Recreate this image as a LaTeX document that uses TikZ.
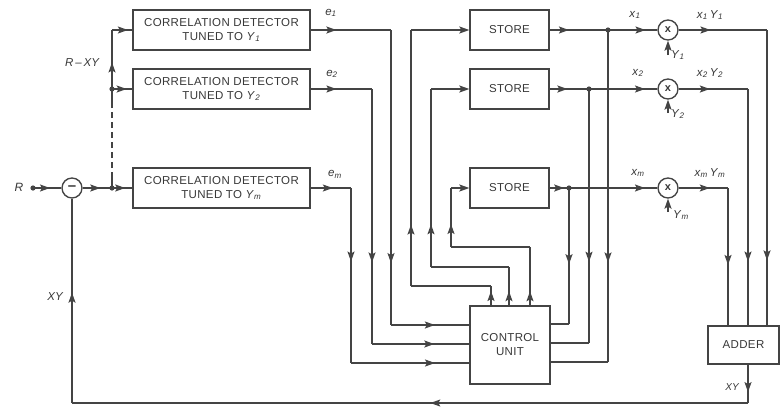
\documentclass[tikz,border=0pt]{standalone}
\usepackage{fontspec}
\setmainfont{Liberation Sans}
\newfontfamily\boxfont[LetterSpace=3]{Liberation Sans}
\usetikzlibrary{arrows.meta,decorations.markings}
\definecolor{lc}{HTML}{444444}
\definecolor{tc}{HTML}{383838}
\newcommand\lb[2]{\textit{#1}\textsubscript{\textit{#2}}}
\tikzset{
  ln/.style={line width=1.35pt, draw=lc},
  ar/.style={postaction={decorate}, decoration={markings, mark=at position #1 with {\arrow{Stealth[length=10pt,width=7pt,inset=2pt]}}}},
  endar/.style={-{Stealth[length=10pt,width=7pt,inset=2pt]}},
  blk/.style={draw=lc, line width=1.35pt, rectangle, inner sep=0pt, align=center, text=tc, font=\boxfont\fontsize{11.5}{14}\selectfont},
  detbox/.style={blk, minimum width=177pt, minimum height=40pt},
  storebox/.style={blk, minimum width=79pt, minimum height=40pt},
  circ/.style={draw=lc, line width=1.35pt, circle, minimum size=20pt, inner sep=0pt, text=tc, font=\bfseries\fontsize{11}{12}\selectfont},
  lab/.style={text=tc, inner sep=0pt, font=\fontsize{11.5}{13}\selectfont},
  dot/.style={fill=lc}
}
\begin{document}
\begin{tikzpicture}[x=1pt,y=-1pt]
\useasboundingbox (0,0) rectangle (781,408);
\fill[white] (0,0) rectangle (781,408);

% left input
\node[lab,font=\fontsize{12}{13}\selectfont] (rlab) at (19,187) {\textit{R}};
\coordinate (in) at (33,188);
\node[circ,font=\bfseries\fontsize{15}{15}\selectfont] (sub) at (72,188) {\raisebox{0.5pt}{–}};
\coordinate (j0) at (112,188);
\coordinate (ja) at (112,178);
\coordinate (jb) at (112,104);
\coordinate (j2) at (112,89);
\coordinate (jt) at (112,30);

% detectors
\node[detbox] (det1) at (221.5,30) {CORRELATION DETECTOR\\TUNED TO \lb{Y}{1}};
\node[detbox] (det2) at (221.5,89) {CORRELATION DETECTOR\\TUNED TO \lb{Y}{2}};
\node[detbox] (detm) at (221.5,188) {CORRELATION DETECTOR\\TUNED TO \lb{Y}{m}};

\draw[ln,ar=0.6] (in) -- (sub.west);
\draw[ln,ar=0.6] (sub.east) -- (j0);
\draw[ln,ar=0.65] (j0) -- (detm.west);
\draw[ln] (j0) -- (ja);
\draw[ln,dashed,dash pattern=on 6pt off 4pt] (ja) -- (jb);
\draw[ln] (jb) -- (j2);
\draw[ln,ar=0.45] (j2) -- (jt);
\draw[ln,ar=0.78] (jt) -- (det1.west);
\draw[ln,ar=0.72] (j2) -- (det2.west);
\fill[dot] (in) circle (2.6pt);
\fill[dot] (j0) circle (2.6pt);
\fill[dot] (j2) circle (2.6pt);
\node[lab,font=\itshape\fontsize{11.5}{13}\selectfont] (rxy) at (82,63) {R\,--\,XY};

% control unit
\node[blk, minimum width=80pt, minimum height=78pt] (cu) at (510,345) {CONTROL\\UNIT};

% e lines
\coordinate (e1a) at (391,30);  \coordinate (e1b) at (391,325);
\coordinate (e2a) at (372,89);  \coordinate (e2b) at (372,344);
\coordinate (ema) at (351,188); \coordinate (emb) at (351,363);
\draw[ln,ar=0.32] (det1.east) -- (e1a);
\draw[ln,ar=0.79] (e1a) -- (e1b);
\draw[ln,ar=0.56] (e1b) -- (cu.west |- e1b);
\draw[ln,ar=0.42] (det2.east) -- (e2a);
\draw[ln,ar=0.68] (e2a) -- (e2b);
\draw[ln,ar=0.64] (e2b) -- (cu.west |- e2b);
\draw[ln,ar=0.55] (detm.east) -- (ema);
\draw[ln,ar=0.42] (ema) -- (emb);
\draw[ln,ar=0.71] (emb) -- (cu.west |- emb);
\node[lab] (e1l) at (331,13) {\lb{e}{1}};
\node[lab] (e2l) at (332,74) {\lb{e}{2}};
\node[lab] (eml) at (335,174) {\lb{e}{m}};

% stores
\node[storebox] (st1) at (509.5,30) {STORE};
\node[storebox] (st2) at (509.5,89) {STORE};
\node[storebox] (stm) at (509.5,188) {STORE};

\coordinate (c1) at (491,306); \coordinate (c1a) at (491,286); \coordinate (c1b) at (411,286); \coordinate (c1c) at (411,30);
\coordinate (c2) at (509,306); \coordinate (c2a) at (509,267); \coordinate (c2b) at (431,267); \coordinate (c2c) at (431,89);
\coordinate (c3) at (530,306); \coordinate (c3a) at (530,247); \coordinate (c3b) at (451,247); \coordinate (c3c) at (451,188);
\draw[ln,ar=0.75] (c1) -- (c1a);
\draw[ln] (c1a) -- (c1b);
\draw[ln,ar=0.24] (c1b) -- (c1c);
\draw[ln,endar] (c1c) -- (st1.west);
\draw[ln,ar=0.38] (c2) -- (c2a);
\draw[ln] (c2a) -- (c2b);
\draw[ln,ar=0.24] (c2b) -- (c2c);
\draw[ln,endar] (c2c) -- (st2.west);
\draw[ln,ar=0.25] (c3) -- (c3a);
\draw[ln] (c3a) -- (c3b);
\draw[ln,ar=0.39] (c3b) -- (c3c);
\draw[ln,endar] (c3c) -- (stm.west);

% multipliers
\node[circ] (mul1) at (668,30) {x};
\node[circ] (mul2) at (668,89) {x};
\node[circ] (mulm) at (668,188) {x};

\coordinate (d1) at (608,30);
\coordinate (d2) at (589,89);
\coordinate (dm) at (569,188);
\coordinate (d1b) at (608,362);
\coordinate (d2b) at (589,343);
\coordinate (dmb) at (569,324);
\draw[ln,ar=0.33] (st1.east) -- (d1);
\draw[ln,ar=0.76] (d1) -- (mul1.west);
\draw[ln,ar=0.45] (st2.east) -- (d2);
\draw[ln,ar=0.82] (d2) -- (mul2.west);
\draw[ln,ar=0.75] (stm.east) -- (dm);
\draw[ln,ar=0.86] (dm) -- (mulm.west);
\draw[ln,ar=0.7] (d1) -- (d1b);
\draw[ln] (d1b) -- (cu.east |- d1b);
\draw[ln,ar=0.68] (d2) -- (d2b);
\draw[ln] (d2b) -- (cu.east |- d2b);
\draw[ln,ar=0.56] (dm) -- (dmb);
\draw[ln] (dmb) -- (cu.east |- dmb);
\fill[dot] (d1) circle (2.6pt);
\fill[dot] (d2) circle (2.6pt);
\fill[dot] (dm) circle (2.6pt);

\node[lab] (x1l) at (635,15) {\lb{x}{1}};
\node[lab] (x2l) at (638,73) {\lb{x}{2}};
\node[lab] (xml) at (638,173) {\lb{x}{m}};

% Y inputs
\coordinate (y1s) at (668,55);
\coordinate (y2s) at (668,113);
\coordinate (yms) at (668,212);
\draw[ln,endar] (y1s) -- (mul1.south);
\draw[ln,endar] (y2s) -- (mul2.south);
\draw[ln,endar] (yms) -- (mulm.south);
\node[lab,anchor=north west] (y1l) at (671,50) {\lb{Y}{1}};
\node[lab,anchor=north west] (y2l) at (671,109) {\lb{Y}{2}};
\node[lab,anchor=north west] (yml) at (673,210) {\lb{Y}{m}};

% adder
\node[blk, minimum width=71pt, minimum height=38pt] (add) at (743.5,345) {ADDER};
\coordinate (p1) at (767,30);
\coordinate (p2) at (748,89);
\coordinate (pm) at (728,188);
\draw[ln,ar=0.36] (mul1.east) -- (p1);
\draw[ln,ar=0.78] (p1) -- (p1 |- add.north);
\draw[ln,ar=0.45] (mul2.east) -- (p2);
\draw[ln,ar=0.73] (p2) -- (p2 |- add.north);
\draw[ln,ar=0.63] (mulm.east) -- (pm);
\draw[ln,ar=0.56] (pm) -- (pm |- add.north);
\node[lab] (x1y1) at (710,15) {\lb{x}{1}\,\lb{Y}{1}};
\node[lab] (x2y2) at (710,73) {\lb{x}{2}\,\lb{Y}{2}};
\node[lab] (xmym) at (710,173) {\lb{x}{m}\,\lb{Y}{m}};

% feedback
\coordinate (f0) at (748,364);
\coordinate (f1) at (748,403);
\coordinate (f2) at (72,403);
\draw[ln,ar=0.72] (f0) -- (f1);
\draw[ln,ar=0.47] (f1) -- (f2);
\draw[ln,ar=0.54] (f2) -- (sub.south);
\node[lab,font=\itshape\fontsize{10}{11}\selectfont] (xyr) at (732,387) {XY};
\node[lab,font=\itshape\fontsize{11.5}{13}\selectfont] (xyl) at (55,297) {XY};
\end{tikzpicture}
\end{document}
